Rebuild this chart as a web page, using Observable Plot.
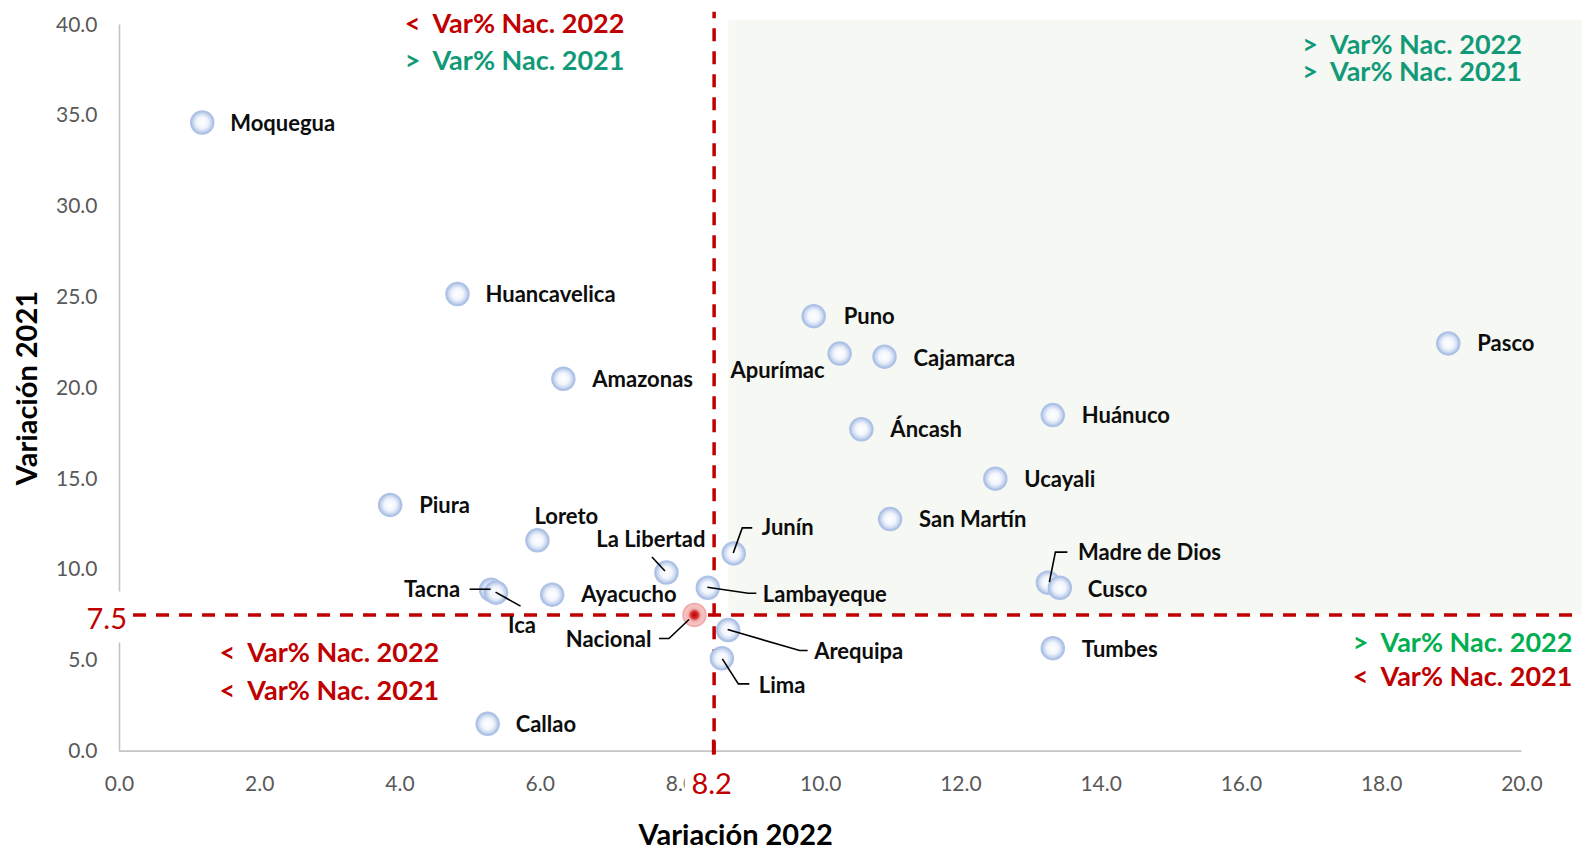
<!DOCTYPE html>
<html>
<head>
<meta charset="utf-8">
<script src="https://cdn.jsdelivr.net/npm/d3@7"></script>
<script src="https://cdn.jsdelivr.net/npm/@observablehq/plot@0.6"></script>
<style>
html, body { margin: 0; padding: 0; background: #fff; }
svg text { white-space: pre; }
</style>
</head>
<body>
<div id="chart"></div>
<script>
// ---- data ----
const regions = ["Moquegua","Huancavelica","Amazonas","Piura","Loreto","La Libertad","Tacna","Ica","Ayacucho","Lambayeque","Junín","Arequipa","Lima","Callao","Puno","Apurímac","Cajamarca","Áncash","Huánuco","Pasco","Ucayali","San Martín","Madre de Dios","Cusco","Tumbes"];
const var2022 = [1.18,4.82,6.33,3.86,5.96,7.80,5.30,5.37,6.17,8.39,8.76,8.68,8.59,5.25,9.90,10.27,10.91,10.58,13.31,18.95,12.49,10.99,13.24,13.41,13.31];
const var2021 = [34.63,25.18,20.51,13.56,11.61,9.84,8.89,8.73,8.62,9.00,10.89,6.67,5.11,1.50,23.96,21.90,21.73,17.73,18.51,22.46,15.01,12.78,9.28,9.00,5.67];
const nationalName = "Nacional";
const national2022 = 8.2;
const national2021 = 7.5;
const refLine2022 = [8.48];      // drawn position of the vertical reference line
const refLine2021 = [7.5];
const refLabel2022 = "8.2";
const refLabel2021 = "7.5";
const xTicks = [0,2,4,6,8,10,12,14,16,18,20];
const yTicks = [0,5,10,15,20,25,30,35,40];
const xTitle = "Variación 2022";
const yTitle = "Variación 2021";
const quadrantX = [8.69, 20.86];
const quadrantY = [7.5, 40.24];
const noteTexts = ["<  Var% Nac. 2022", ">  Var% Nac. 2021", ">  Var% Nac. 2022", ">  Var% Nac. 2021", "<  Var% Nac. 2022", "<  Var% Nac. 2021", ">  Var% Nac. 2022", "<  Var% Nac. 2021"];
const noteX = [7.2, 7.2, 20, 20, 4.56, 4.56, 20.72, 20.72];
const noteY = [40.02, 37.97, 38.9, 37.4, 5.39, 3.28, 5.94, 4.06];
const noteColor = ["#c00000","#129a78","#129a78","#129a78","#c00000","#c00000","#00b050","#c00000"];

// ---- layout of labels (pixel offsets from each point) ----
const labelLayout = {
  "Moquegua":[28,1,"start"], "Huancavelica":[28,1,"start"], "Amazonas":[29,1,"start"], "Piura":[29,1,"start"],
  "Loreto":[-3,-23,"start"], "La Libertad":[39,-33,"end"], "Tacna":[-31,0,"end"], "Ica":[26,33,"middle"],
  "Ayacucho":[29,0,"start"], "Lambayeque":[55,7,"start"], "Junín":[28,-25,"start"], "Arequipa":[86,22,"start"],
  "Lima":[37,28,"start"], "Callao":[28,1,"start"], "Puno":[30,1,"start"], "Apurímac":[-15,17,"end"],
  "Cajamarca":[29,2,"start"], "Áncash":[29,1,"start"], "Huánuco":[29,1,"start"], "Pasco":[29,1,"start"],
  "Ucayali":[29,1,"start"], "San Martín":[29,1,"start"], "Madre de Dios":[30,-30,"start"], "Cusco":[28,2,"start"],
  "Tumbes":[29,2,"start"], "Nacional":[-43,25,"end"]
};
const leaderLayout = {
  "La Libertad":[[-14,-15],[-1,-1]],
  "Tacna":[[-21,0],[0,0]],
  "Ica":[[0,0],[25,14]],
  "Nacional":[[-35,24],[-25,24],[-5,5]],
  "Lambayeque":[[0,0],[41,6],[49,6]],
  "Junín":[[0,0],[9,-25],[19,-25]],
  "Arequipa":[[0,0],[72,21],[80,21]],
  "Lima":[[1,1],[17,26],[28,26]],
  "Madre de Dios":[[2,0],[8,-30],[20,-30]]
};

const points = regions.map((name, i) => ({name, x: var2022[i], y: var2021[i]}));
const national = [{name: nationalName, x: national2022, y: national2021}];
const allPoints = points.concat(national);
const notes = noteTexts.map((t, i) => ({t, x: noteX[i], y: noteY[i], c: noteColor[i]}));

const FONT = "Lato, 'Open Sans', sans-serif";
const W = 1582, H = 858;

const labelMarks = allPoints.map(p => {
  const [dx, dy, anchor] = labelLayout[p.name];
  return Plot.text([p], {x: "x", y: "y", text: "name", dx, dy, textAnchor: anchor,
    fontSize: 22, fontWeight: "bold", fill: "#0d0d0d"});
});

const svg = Plot.plot({
  width: W, height: H,
  marginLeft: 119, marginRight: 60.6, marginTop: 24.5, marginBottom: 107.4,
  style: {fontFamily: FONT, fontSize: "21px", background: "#fff", overflow: "visible"},
  x: {domain: [0, 20]},
  y: {domain: [0, 40]},
  marks: [
    Plot.rect([0], {x1: () => quadrantX[0], x2: () => quadrantX[1], y1: () => quadrantY[0], y2: () => quadrantY[1], fill: "#f6f8f3"}),
    Plot.ruleX([0], {y1: 0, y2: 40, stroke: "#c4c4c4", strokeWidth: 1.6}),
    Plot.ruleY([0], {x1: 0, x2: 20, stroke: "#c4c4c4", strokeWidth: 1.6}),
    Plot.axisX(xTicks, {tickSize: 0, tickPadding: 25, tickFormat: d => d.toFixed(1), label: null, color: "#595959", fontSize: 21}),
    Plot.axisY(yTicks, {tickSize: 0, tickPadding: 22, tickFormat: d => d.toFixed(1), label: null, color: "#595959", fontSize: 21}),
    Plot.ruleX(refLine2022, {x: d => d, y1: -0.2, y2: 40.7, stroke: "#c00000", strokeWidth: 3.5, strokeDasharray: "13,10"}),
    Plot.ruleY(refLine2021, {y: d => d, x1: 0.2, x2: 20.82, stroke: "#c00000", strokeWidth: 3.5, strokeDasharray: "13,10"}),
    Plot.dot(points, {x: "x", y: "y", r: 11.5, fill: "url(#gBlue)", stroke: "#adc2e6", strokeWidth: 1.5}),
    Plot.dot(national, {x: "x", y: "y", r: 11.5, fill: "url(#gRed)", stroke: "#f1a9a9", strokeWidth: 1.5}),
    ...labelMarks,
    Plot.text(notes, {x: "x", y: "y", text: "t", fill: "c", textAnchor: "end", fontSize: 27, fontWeight: "bold"}),
    Plot.text([xTitle], {text: d => d, frameAnchor: "bottom", textAnchor: "middle", lineAnchor: "middle", dx: -85, dy: 85, fontSize: 29, fontWeight: "bold", fill: "#000"}),
    Plot.text([yTitle], {text: d => d, frameAnchor: "left", textAnchor: "middle", lineAnchor: "middle", dx: -92, dy: 0, rotate: -90, fontSize: 29, fontWeight: "bold", fill: "#000"})
  ]
});

document.getElementById("chart").appendChild(svg);

// ---- gradients, leaders and reference labels, via the plot's own scales ----
const sx = svg.scale("x"), sy = svg.scale("y");
const X = v => sx.apply(v), Y = v => sy.apply(v);
const root = d3.select(svg);
const defs = root.insert("defs", ":first-child");
const gb = defs.append("radialGradient").attr("id", "gBlue");
[[0,"#ffffff"],[0.5,"#f1f5fc"],[0.8,"#c8d6ef"],[1,"#9eb5df"]].forEach(([o,c]) => gb.append("stop").attr("offset", o).attr("stop-color", c));
const gr = defs.append("radialGradient").attr("id", "gRed");
[[0,"#c00000"],[0.3,"#d32a2a"],[0.55,"#f2b4b4"],[0.85,"#f6c6c6"],[1,"#ee9d9d"]].forEach(([o,c]) => gr.append("stop").attr("offset", o).attr("stop-color", c));

const lg = root.append("g").attr("fill", "none").attr("stroke", "#000").attr("stroke-width", 1.6);
allPoints.forEach(p => {
  const L = leaderLayout[p.name];
  if (!L) return;
  const px = X(p.x), py = Y(p.y);
  lg.append("path").attr("d", d3.line()(L.map(([dx, dy]) => [px + dx, py + dy])));
});

const rg = root.append("g").attr("font-family", FONT);
// y reference label (on the y axis)
const y75 = Y(refLine2021[0]);
const x0 = X(0);
rg.append("rect").attr("x", x0 - 35).attr("y", y75 - 23).attr("width", 47).attr("height", 51).attr("fill", "#fff");
rg.append("text").attr("x", x0 + 8).attr("y", y75 + 7).attr("text-anchor", "end").attr("dominant-baseline", "middle")
  .attr("font-size", 29).attr("fill", "#c00000").text(refLabel2021);
// x reference label (on the x axis)
const x82 = X(refLine2022[0]);
const yb = Y(0);
rg.append("rect").attr("x", x82 - 29).attr("y", yb + 6).attr("width", 58).attr("height", 50).attr("fill", "#fff");
rg.append("text").attr("x", x82 - 2).attr("y", yb + 36).attr("text-anchor", "middle").attr("dominant-baseline", "middle")
  .attr("font-size", 29).attr("fill", "#c00000").text(refLabel2022);
// small red tick of the vertical line crossing the axis
rg.append("line").attr("x1", x82).attr("x2", x82).attr("y1", yb - 11).attr("y2", yb + 4).attr("stroke", "#c00000").attr("stroke-width", 3.5);
</script>
</body>
</html>
